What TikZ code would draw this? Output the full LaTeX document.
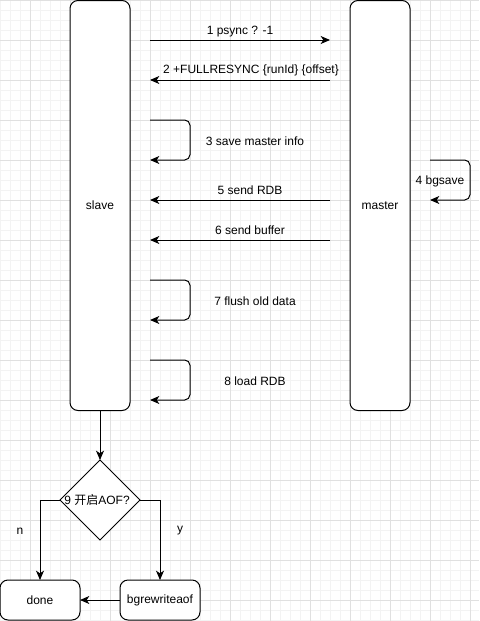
\documentclass[tikz,border=0pt]{standalone}
\usepackage{fontspec}
\setmainfont{Liberation Sans}
\newfontfamily\cjk{Noto Sans CJK SC}
\usetikzlibrary{arrows.meta,shapes.geometric}
\definecolor{minorgrid}{HTML}{F3F3F3}
\definecolor{majorgrid}{HTML}{E0E0E0}
\definecolor{txt}{HTML}{333333}
\tikzset{
  box/.style={draw, line width=0.75pt, rounded corners=6pt, fill=white, inner sep=0pt, outer sep=0pt, font=\fontsize{9}{11}\selectfont},
  tall/.style={box, minimum width=45pt, minimum height=307.5pt},
  small/.style={box, minimum width=60pt, minimum height=30pt},
  arr/.style={line width=0.75pt, -{Stealth[length=7pt,width=6pt,inset=2pt]}},
  loop/.style={arr, rounded corners=4pt},
  lbl/.style={font=\fontsize{9}{11}\selectfont, inner sep=0pt},
  dec/.style={draw, line width=0.75pt, diamond, aspect=1, minimum width=60pt, minimum height=60pt, inner sep=0pt, outer sep=0pt, fill=white, font=\fontsize{9}{11}\selectfont},
}
\begin{document}
\begin{tikzpicture}[x=0.75pt, y=-0.75pt]
\useasboundingbox (0,0) rectangle (479,621);
\fill[white] (0,0) rectangle (479,621);
\foreach \x in {0,10,...,470} \draw[minorgrid, line width=0.75pt] (\x,0) -- (\x,621);
\foreach \y in {0,10,...,620} \draw[minorgrid, line width=0.75pt] (0,\y) -- (479,\y);
\foreach \x in {30,70,...,470} \draw[majorgrid, line width=0.75pt] (\x,0) -- (\x,621);
\foreach \y in {0,40,...,600} \draw[majorgrid, line width=0.75pt] (0,\y) -- (479,\y);

\node[tall] (slave) at (100,205.5) {slave};
\node[tall] (master) at (380,205.5) {master};

% message endpoints
\coordinate (s1) at (150,40);  \coordinate (m1) at (330,40);
\coordinate (s2) at (150,80);  \coordinate (m2) at (330,80);
\coordinate (s5) at (150,200); \coordinate (m5) at (330,200);
\coordinate (s6) at (150,240); \coordinate (m6) at (330,240);

\draw[arr] (s1) -- (m1);
\node[lbl] (l1) at (240,32) {1 psync ? -1};
\draw[arr] (m2) -- (s2);
\node[lbl] (l2) at (251,70) {2 +FULLRESYNC \{runId\} \{offset\}};

\coordinate (a3) at (150,120); \coordinate (b3) at (150,160);
\draw[loop] (a3) -- (190,120) -- (190,160) -- (b3);
\node[lbl] (l3) at (255,141) {3 save master info};

\coordinate (a4) at (430,160); \coordinate (b4) at (430,200);
\draw[loop] (a4) -- (470,160) -- (470,200) -- (b4);
\node[lbl] (l4) at (440,181) {4 bgsave};

\draw[arr] (m5) -- (s5);
\node[lbl] (l5) at (250,190) {5 send RDB};
\draw[arr] (m6) -- (s6);
\node[lbl] (l6) at (250,230) {6 send buffer};

\coordinate (a7) at (150,280); \coordinate (b7) at (150,320);
\draw[loop] (a7) -- (190,280) -- (190,320) -- (b7);
\node[lbl] (l7) at (255,301) {7 flush old data};

\coordinate (a8) at (150,360); \coordinate (b8) at (150,400);
\draw[loop] (a8) -- (190,360) -- (190,400) -- (b8);
\node[lbl] (l8) at (255,381) {8 load RDB};

\node[dec] (aof) at (100,500) {};
\node[lbl] (aoft) at (97,500) {9 {\cjk 开启}AOF?};

\node[small] (done) at (40,600) {done};
\node[small] (bgr) at (160,600) {bgrewriteaof};

\draw[arr] (slave.south) -- (aof.north);
\draw[arr] (aof.west) -| (done.north);
\draw[arr] (aof.east) -| (bgr.north);
\draw[arr] (bgr.west) -- (done.east);
\node[lbl] (ln) at (20,531) {n};
\node[lbl] (ly) at (180,531) {y};
\end{tikzpicture}
\end{document}
